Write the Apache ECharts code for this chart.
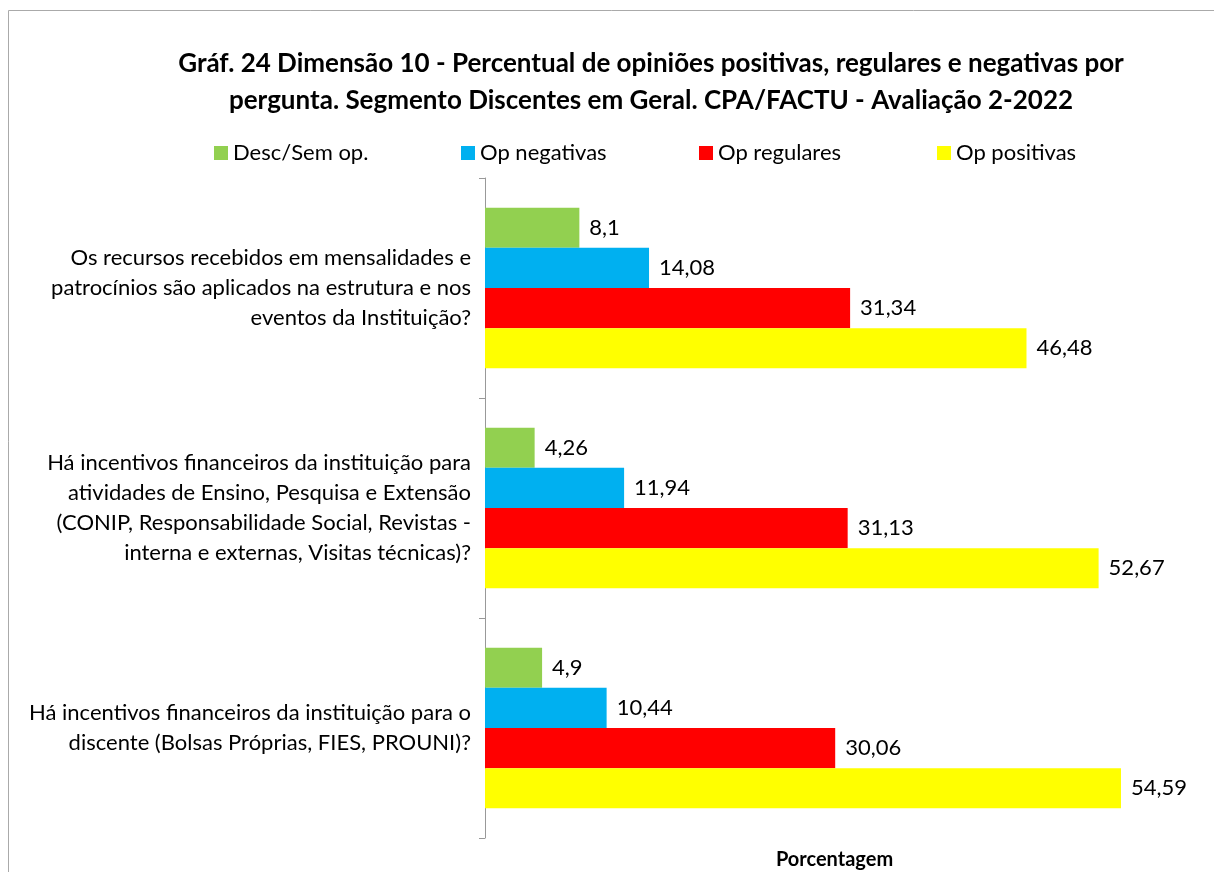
<!DOCTYPE html>
<html lang="pt">
<head>
    <meta charset="UTF-8">
    <title>Gráf. 24 Dimensão 10</title>
    <style>
        *{
            margin: 0;
            padding: 0;
        }
        html, body{
            height: 100%;
            width: 100%;
            overflow: hidden;
            background: #fff;
        }
        #chart{
            width: 100%;
            height: 100%;
        }
    </style>
</head>
<body>
<div id="chart"></div>
<script src="https://cdn.jsdelivr.net/npm/echarts@6/dist/echarts.min.js"></script>
<script>
    var categories = [
        'Os recursos recebidos em mensalidades e\npatrocínios são aplicados na estrutura e nos\neventos da Instituição?',
        'Há incentivos financeiros da instituição para\natividades de Ensino, Pesquisa e Extensão\n(CONIP, Responsabilidade Social, Revistas -\ninterna e externas, Visitas técnicas)?',
        'Há incentivos financeiros da instituição para o\ndiscente (Bolsas Próprias, FIES, PROUNI)?'
    ];
    var seriesNames = ['Desc/Sem op.', 'Op negativas', 'Op regulares', 'Op positivas'];
    var descSemOp = [8.1, 4.26, 4.9];
    var opNegativas = [14.08, 11.94, 10.44];
    var opRegulares = [31.34, 31.13, 30.06];
    var opPositivas = [46.48, 52.67, 54.59];
    var colors = ['#92D050', '#00B0F0', '#FF0000', '#FFFF00'];

    var font = 'Lato, "Noto Sans", sans-serif';
    var chart = echarts.init(document.getElementById('chart'));

    function makeSeries(name, data, color) {
        return {
            name: name,
            type: 'bar',
            data: data,
            barGap: '0%',
            barCategoryGap: '27%',
            itemStyle: {color: color},
            label: {
                show: true,
                position: 'right',
                distance: 10,
                color: '#000',
                fontFamily: font,
                fontSize: 22,
                formatter: function (p) {
                    return String(p.value).replace('.', ',');
                }
            }
        };
    }

    var legendLeft = [209, 456, 694, 932];
    var legends = [];
    for (var i = 0; i < seriesNames.length; i++) {
        legends.push({
            data: [seriesNames[i]],
            left: legendLeft[i],
            top: 137,
            icon: 'rect',
            itemWidth: 14,
            itemHeight: 14,
            itemGap: 6,
            textStyle: {fontFamily: font, fontSize: 22, color: '#000'}
        });
    }

    var option = {
        animation: false,
        color: colors,
        title: {
            text: 'Gráf. 24 Dimensão 10 - Percentual de opiniões positivas, regulares e negativas por\npergunta. Segmento Discentes em Geral. CPA/FACTU - Avaliação 2-2022',
            left: 646,
            textAlign: 'center',
            top: 40,
            textStyle: {
                fontFamily: font,
                fontSize: 26,
                fontWeight: 'bold',
                lineHeight: 37,
                color: '#000'
            }
        },
        legend: legends,
        graphic: [{
            type: 'rect',
            shape: {x: 8.5, y: 10.5, width: 1400, height: 1000},
            style: {fill: 'none', stroke: '#aaa', lineWidth: 1},
            silent: true
        }],
        grid: {
            left: 485,
            top: 178,
            width: 699,
            height: 660,
            outerBoundsMode: 'none'
        },
        xAxis: {
            type: 'value',
            min: 0,
            max: 60,
            name: 'Porcentagem',
            nameLocation: 'middle',
            nameGap: 12,
            nameTextStyle: {fontFamily: font, fontSize: 20, fontWeight: 'bold', color: '#000'},
            axisLine: {show: false},
            axisTick: {show: false},
            axisLabel: {show: false},
            splitLine: {show: false}
        },
        yAxis: {
            type: 'category',
            inverse: true,
            data: categories,
            axisLine: {show: true, lineStyle: {color: '#999', width: 1}},
            axisTick: {show: true, length: 6, lineStyle: {color: '#999'}},
            axisLabel: {
                margin: 14,
                align: 'right',
                fontFamily: font,
                fontSize: 22,
                lineHeight: 30,
                color: '#000'
            }
        },
        series: [
            makeSeries(seriesNames[0], descSemOp, colors[0]),
            makeSeries(seriesNames[1], opNegativas, colors[1]),
            makeSeries(seriesNames[2], opRegulares, colors[2]),
            makeSeries(seriesNames[3], opPositivas, colors[3])
        ]
    };
    chart.setOption(option);
    window.onresize = function () {
        chart.resize();
    };
</script>
</body>
</html>
